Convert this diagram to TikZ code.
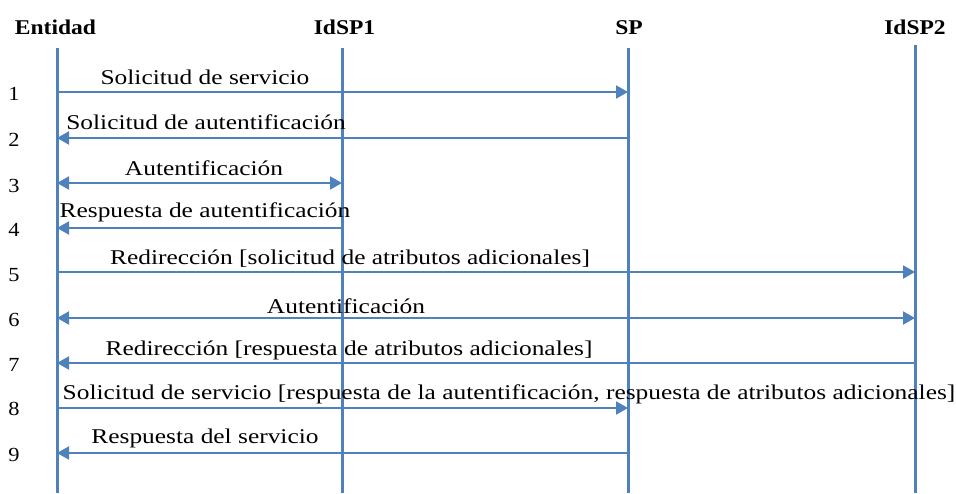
\documentclass[tikz,border=0pt]{standalone}
\usepackage{fontspec}
\setmainfont{Liberation Serif}[FakeStretch=1.12]
\newfontfamily\msgfont{Liberation Serif}[FakeStretch=1.21]
\usetikzlibrary{arrows.meta}
\definecolor{lineblue}{HTML}{4F81BD}

\begin{document}
\begin{tikzpicture}[x=1pt,y=-1pt,
  life/.style={draw=lineblue,line width=3pt},
  msg/.style={draw=lineblue,line width=2pt,-{Triangle[length=12pt,width=13pt]}},
  twoway/.style={msg,{Triangle[length=12pt,width=13pt]}-{Triangle[length=12pt,width=13pt]}},
  lbl/.style={font=\msgfont\fontsize{21}{21}\selectfont,inner sep=0pt,anchor=base},
  num/.style={font=\fontsize{20}{20}\selectfont,inner sep=0pt,anchor=base},
  head/.style={font=\fontsize{21}{21}\selectfont\bfseries,inner sep=0pt,anchor=base}]
        \useasboundingbox (0,0) rectangle (956,493);
        % actors
        \node[head](ent) at (55.5,34) {Entidad};
        \node[head](idp1) at (344.5,34) {IdSP1};
        \node[head](sp) at (629,34) {SP};
        \node[head](idp2) at (915,34) {IdSP2};
        \coordinate(entT) at (57,48);   \coordinate(entB) at (57,493);
        \coordinate(idp1T) at (342,48); \coordinate(idp1B) at (342,493);
        \coordinate(spT) at (628,48);   \coordinate(spB) at (628,493);
        \coordinate(idp2T) at (915,45); \coordinate(idp2B) at (915,493);
        \draw[life](entT)--(entB);
        \draw[life](idp1T)--(idp1B);
        \draw[life](spT)--(spB);
        \draw[life](idp2T)--(idp2B);
        % points on the lifelines
        \foreach \n/\y in {1/92,2/138,3/183,4/228,5/272,6/318,7/363,8/408,9/453}{
          \coordinate(e\n) at (57,\y);
          \coordinate(a\n) at (342,\y);
          \coordinate(s\n) at (628,\y);
          \coordinate(b\n) at (915,\y);
        }
        % step numbers
        \foreach \n/\y in {1/100,2/146.5,3/192.5,4/236,5/281.5,6/326.5,7/371.5,8/415,9/461.5}
          \node[num](n\n) at (14,\y) {\n};
        % messages
        \draw[msg](e1)--(s1);
        \node[lbl](m1) at (205,84) {Solicitud de servicio};
        \draw[msg](s2)--(e2);
        \node[lbl](m2) at (206,129.5) {Solicitud de autentificación};
        \draw[twoway](e3)--(a3);
        \node[lbl](m3) at (204,175.5) {Autentificación};
        \draw[msg](a4)--(e4);
        \node[lbl](m4) at (205,217.5) {Respuesta de autentificación};
        \draw[msg](e5)--(b5);
        \node[lbl](m5) at (350,264) {Redirección [solicitud de atributos adicionales]};
        \draw[twoway](e6)--(b6);
        \node[lbl](m6) at (346,313) {Autentificación};
        \draw[msg](b7)--(e7);
        \node[lbl](m7) at (349,355) {Redirección [respuesta de atributos adicionales]};
        \draw[msg](e8)--(s8);
        \node[lbl](m8) at (509,399) {Solicitud de servicio [respuesta de la autentificación, respuesta de atributos adicionales]};
        \draw[msg](s9)--(e9);
        \node[lbl](m9) at (205,443) {Respuesta del servicio};
\end{tikzpicture}
\end{document}
